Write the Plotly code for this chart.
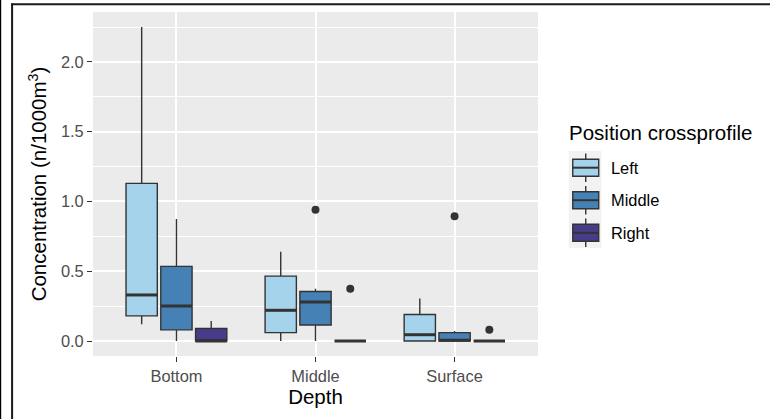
import plotly.graph_objects as go

# ---------------- data ----------------
depths = ["Bottom", "Middle", "Surface"]
positions = ["Left", "Middle", "Right"]
colors = ["#A6D3EC", "#4581B4", "#473C8B"]

lower_left = [0.12, 0.0, 0.0]
q1_left = [0.18, 0.06, 0.0]
med_left = [0.33, 0.22, 0.045]
q3_left = [1.13, 0.465, 0.19]
upper_left = [2.25, 0.64, 0.305]

lower_mid = [0.0, 0.0, 0.0]
q1_mid = [0.08, 0.115, 0.0]
med_mid = [0.25, 0.28, 0.005]
q3_mid = [0.535, 0.355, 0.06]
upper_mid = [0.875, 0.375, 0.072]

lower_right = [0.0, 0.0, 0.0]
q1_right = [0.0, 0.0, 0.0]
med_right = [0.0, 0.0, 0.0]
q3_right = [0.09, 0.0, 0.0]
upper_right = [0.143, 0.0, 0.0]

outlier_depth = ["Middle", "Middle", "Surface", "Surface"]
outlier_pos = ["Middle", "Right", "Middle", "Right"]
outlier_val = [0.94, 0.375, 0.895, 0.08]

stats = {
    "Left": (lower_left, q1_left, med_left, q3_left, upper_left),
    "Middle": (lower_mid, q1_mid, med_mid, q3_mid, upper_mid),
    "Right": (lower_right, q1_right, med_right, q3_right, upper_right),
}

# ---------------- geometry ----------------
W, H = 770, 419
PX0, PX1, PY0, PY1 = 93, 538.5, 12, 356  # plot area in pixels
DODGE = 0.25
BOXW = 0.225
OUTLINE = "#333333"
FONT = "Liberation Sans, Arial, sans-serif"


def xp(px):
    return (px - PX0) / (PX1 - PX0)


def yp(py):
    return (PY1 - py) / (PY1 - PY0)


def xpos(depth, pos):
    return depths.index(depth) + 1 + (positions.index(pos) - 1) * DODGE


fig = go.Figure()

for j, pos in enumerate(positions):
    lo, q1, me, q3, up = stats[pos]
    xs = [xpos(d, pos) for d in depths]
    fig.add_trace(go.Box(
        x=xs, q1=q1, median=me, q3=q3, lowerfence=lo, upperfence=up,
        width=BOXW, whiskerwidth=0, boxpoints=False,
        fillcolor=colors[j], line=dict(color=OUTLINE, width=1.4),
        name=pos, showlegend=False,
    ))
    # thicker median lines (ggplot style)
    mx, my = [], []
    for x, m in zip(xs, me):
        mx += [x - BOXW / 2, x + BOXW / 2, None]
        my += [m, m, None]
    fig.add_trace(go.Scatter(x=mx, y=my, mode="lines",
                             line=dict(color=OUTLINE, width=3),
                             hoverinfo="skip", showlegend=False))

fig.add_trace(go.Scatter(
    x=[xpos(d, p) for d, p in zip(outlier_depth, outlier_pos)],
    y=outlier_val, mode="markers",
    marker=dict(color=OUTLINE, size=8), showlegend=False))

# ---------------- custom legend ----------------
shapes = []
annotations = []
shapes.append(dict(type="rect", xref="paper", yref="paper",
                   x0=xp(569.3), x1=xp(602), y0=yp(151), y1=yp(248.3),
                   fillcolor="#F2F2F2", line=dict(width=0), layer="above"))
key_centers = [167.7, 200.2, 232.8]
for j, pos in enumerate(positions):
    cy = key_centers[j]
    shapes.append(dict(type="line", xref="paper", yref="paper",
                       x0=xp(586.3), x1=xp(586.3), y0=yp(cy - 14.2), y1=yp(cy + 14.2),
                       line=dict(color=OUTLINE, width=1.4), layer="above"))
    shapes.append(dict(type="rect", xref="paper", yref="paper",
                       x0=xp(573.3), x1=xp(599.3), y0=yp(cy - 8.5), y1=yp(cy + 8.5),
                       fillcolor=colors[j], line=dict(color=OUTLINE, width=1.4),
                       layer="above"))
    shapes.append(dict(type="line", xref="paper", yref="paper",
                       x0=xp(573.3), x1=xp(599.3), y0=yp(cy), y1=yp(cy),
                       line=dict(color=OUTLINE, width=2), layer="above"))
    annotations.append(dict(text=pos, xref="paper", yref="paper",
                            x=xp(609.5), y=yp(cy), xanchor="left", yanchor="middle",
                            showarrow=False,
                            font=dict(family=FONT, size=16.4, color="#000000")))
annotations.append(dict(text="Position crossprofile", xref="paper", yref="paper",
                        x=xp(567.5), y=yp(132.5), xanchor="left", yanchor="middle",
                        showarrow=False,
                        font=dict(family=FONT, size=20.5, color="#000000")))

# outer frame lines of the screenshot
shapes.append(dict(type="line", xref="paper", yref="paper",
                   x0=xp(12), x1=xp(12), y0=yp(3.5), y1=yp(430),
                   line=dict(color="#1a1a1a", width=2)))
shapes.append(dict(type="line", xref="paper", yref="paper",
                   x0=xp(11), x1=xp(780), y0=yp(4.3), y1=yp(4.3),
                   line=dict(color="#1a1a1a", width=2)))
shapes.append(dict(type="line", xref="paper", yref="paper",
                   x0=xp(0.5), x1=xp(0.5), y0=yp(-10), y1=yp(430),
                   line=dict(color="#000000", width=1.2)))

fig.update_layout(
    width=W, height=H,
    margin=dict(l=PX0, r=W - PX1, t=PY0, b=H - PY1, autoexpand=False),
    paper_bgcolor="white", plot_bgcolor="#EBEBEB",
    font=dict(family=FONT),
    shapes=shapes, annotations=annotations,
    showlegend=False,
)
fig.update_xaxes(
    range=[0.4, 3.6], tickvals=[1, 2, 3], ticktext=depths,
    showgrid=True, gridcolor="white", gridwidth=1.5, zeroline=False,
    ticks="outside", ticklen=5, tickwidth=1.4, tickcolor=OUTLINE,
    tickfont=dict(family=FONT, size=16.4, color="#4D4D4D"),
    title=dict(text="Depth", font=dict(family=FONT, size=20.5, color="#000000"),
               standoff=4),
    automargin=False, showline=False,
)
fig.update_yaxes(
    range=[-0.1075, 2.358], tickvals=[0, 0.5, 1, 1.5, 2],
    ticktext=["0.0", "0.5", "1.0", "1.5", "2.0"],
    showgrid=True, gridcolor="white", gridwidth=1.5, zeroline=False,
    minor=dict(dtick=0.25, tick0=0, showgrid=True, gridcolor="white", gridwidth=0.7),
    ticks="outside", ticklen=5, tickwidth=1.4, tickcolor=OUTLINE,
    tickfont=dict(family=FONT, size=16.4, color="#4D4D4D"),
    title=dict(text="Concentration (n/1000m<sup>3</sup>)",
               font=dict(family=FONT, size=20.5, color="#000000"), standoff=8),
    automargin=False, showline=False,
)

fig.write_html("out.html")
